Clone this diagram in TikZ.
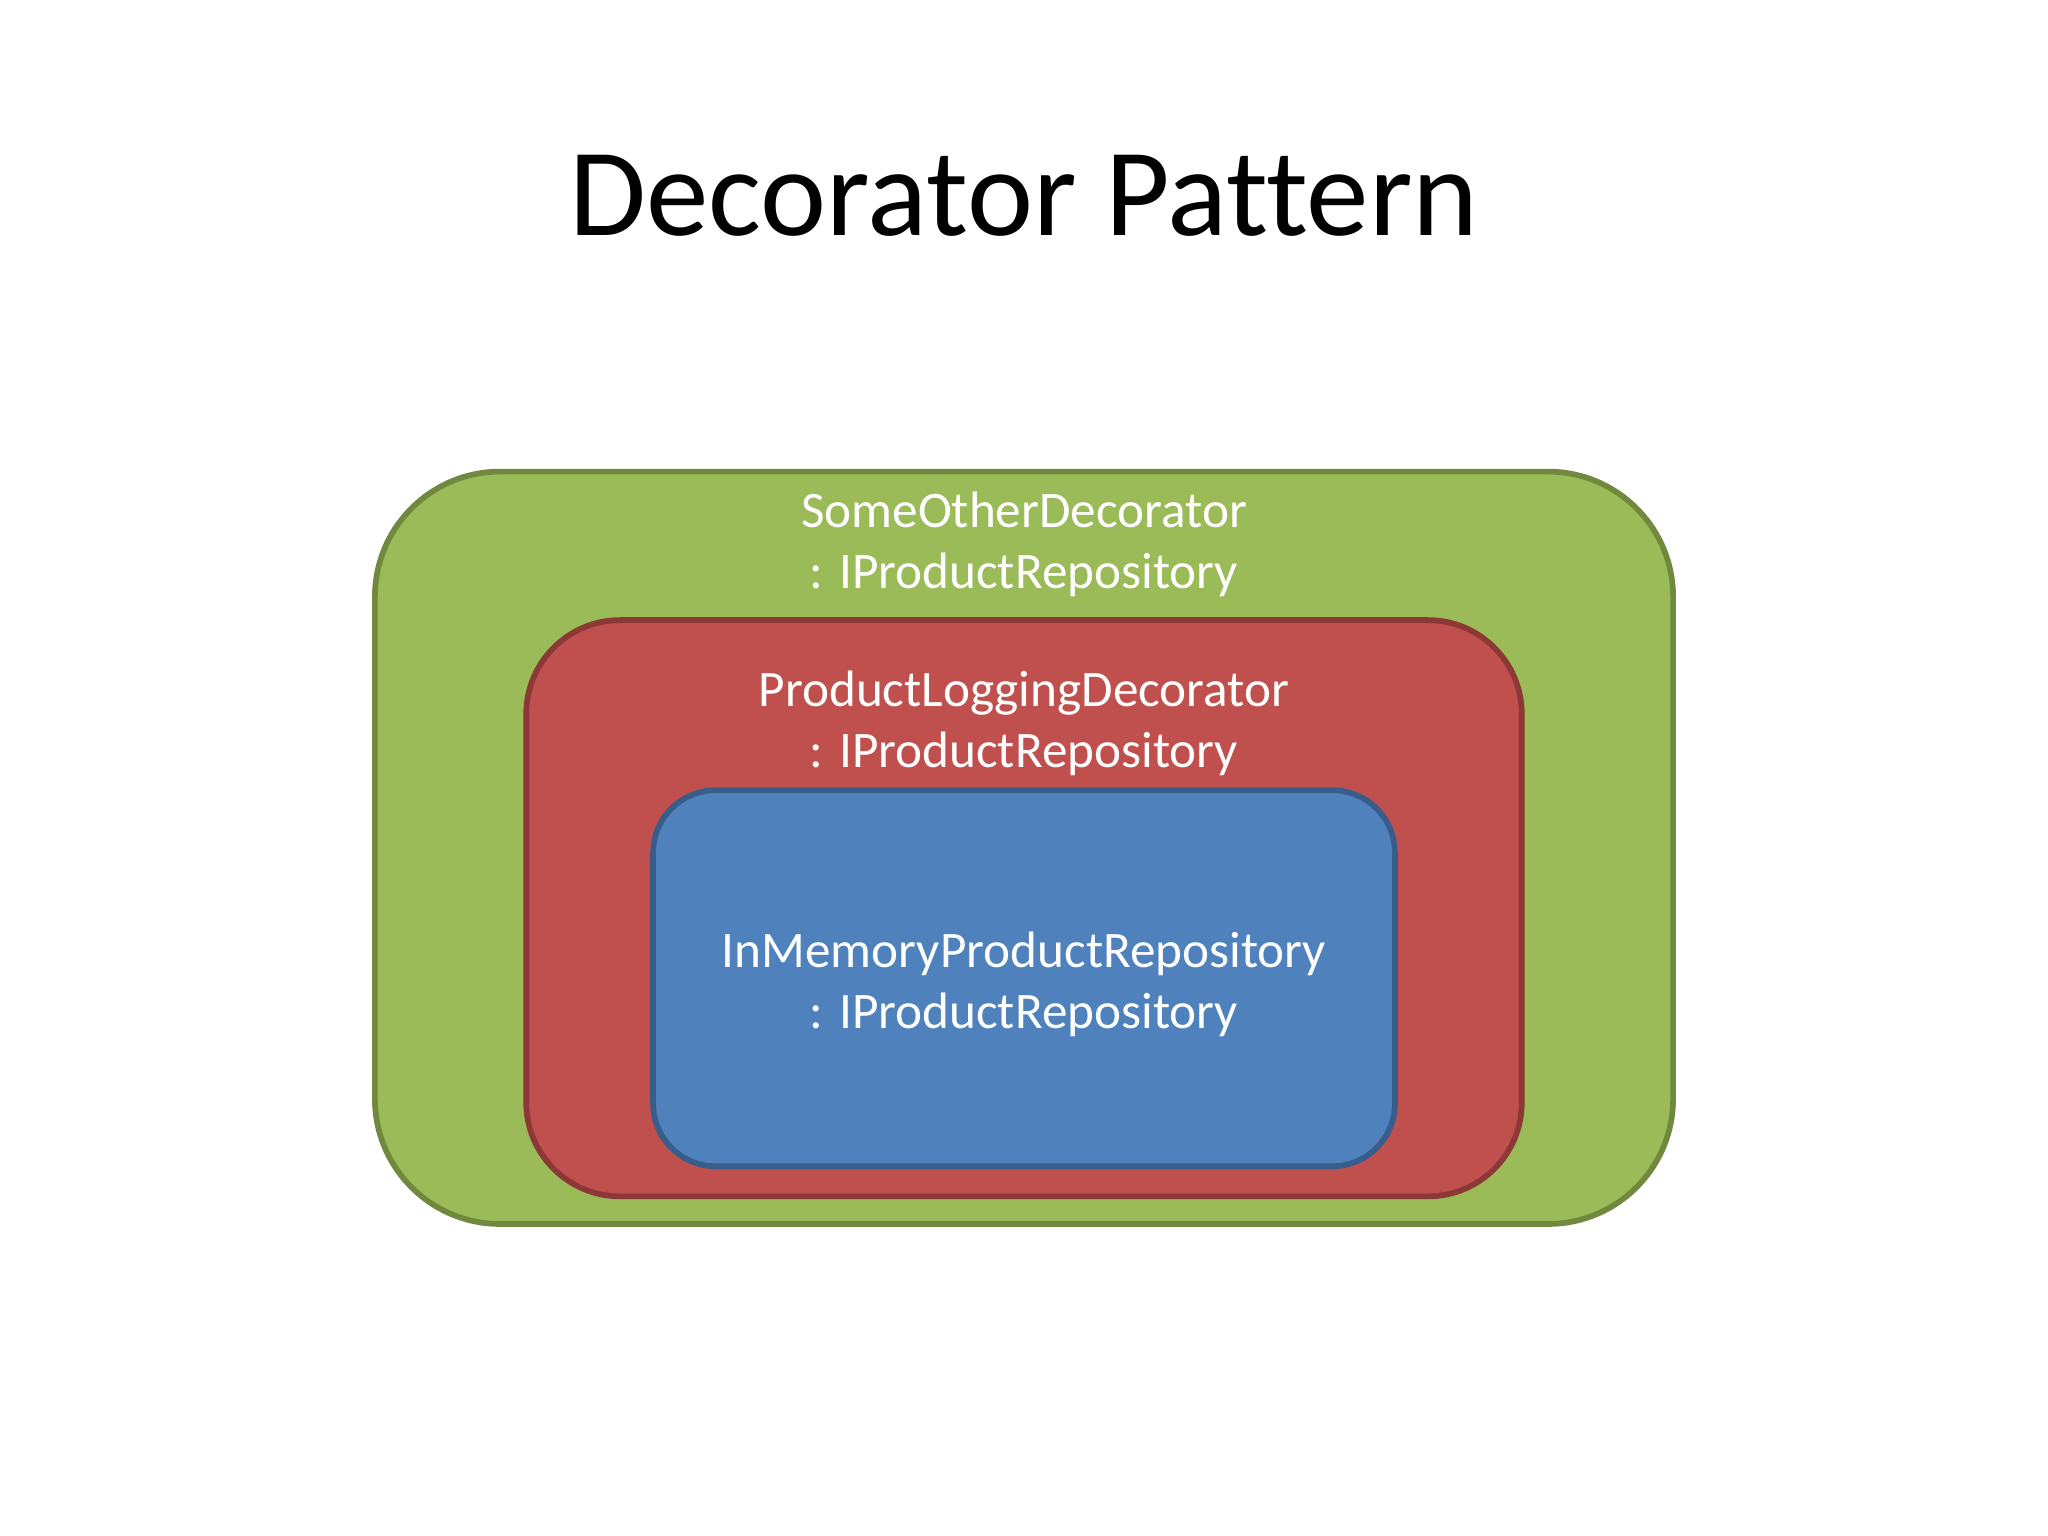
\documentclass[tikz,border=0pt]{standalone}
\usepackage{fontspec}
\setmainfont[Ligatures={NoCommon}]{Carlito}
\definecolor{gfill}{HTML}{9BBB59}
\definecolor{gline}{HTML}{71893F}
\definecolor{rfill}{HTML}{C0504D}
\definecolor{rline}{HTML}{8C3836}
\definecolor{bfill}{HTML}{4F81BD}
\definecolor{bline}{HTML}{385D8A}
\tikzset{
  layerbox/.style={line width=2pt},
  lbl/.style={text=white, align=center, font=\fontsize{18}{21.6}\selectfont, inner sep=0pt},
}
\begin{document}
\begin{tikzpicture}[x={(1pt,0)}, y={(0,-1pt)}]
\useasboundingbox[fill=white] (0,0) rectangle (720,540);
\node[anchor=base, font=\fontsize{44}{52}\selectfont, inner sep=0pt] (title) at (360,82.8) {Decorator Pattern};
\draw[layerbox, fill=gfill, draw=gline, rounded corners=44pt] (131.8,165.8) rectangle (588.2,430.3);
\draw[layerbox, fill=rfill, draw=rline, rounded corners=33pt] (185,218) rectangle (535,420.6);
\draw[layerbox, fill=bfill, draw=bline, rounded corners=22pt] (229.6,277.8) rectangle (490.4,410);
\node[lbl] (outer) at (360,191.3) {SomeOtherDecorator\\: IProductRepository};
\node[lbl] (middle) at (360,254.3) {ProductLoggingDecorator\\: IProductRepository};
\node[lbl] (inner) at (360,346) {InMemoryProductRepository\\: IProductRepository};
\end{tikzpicture}
\end{document}
